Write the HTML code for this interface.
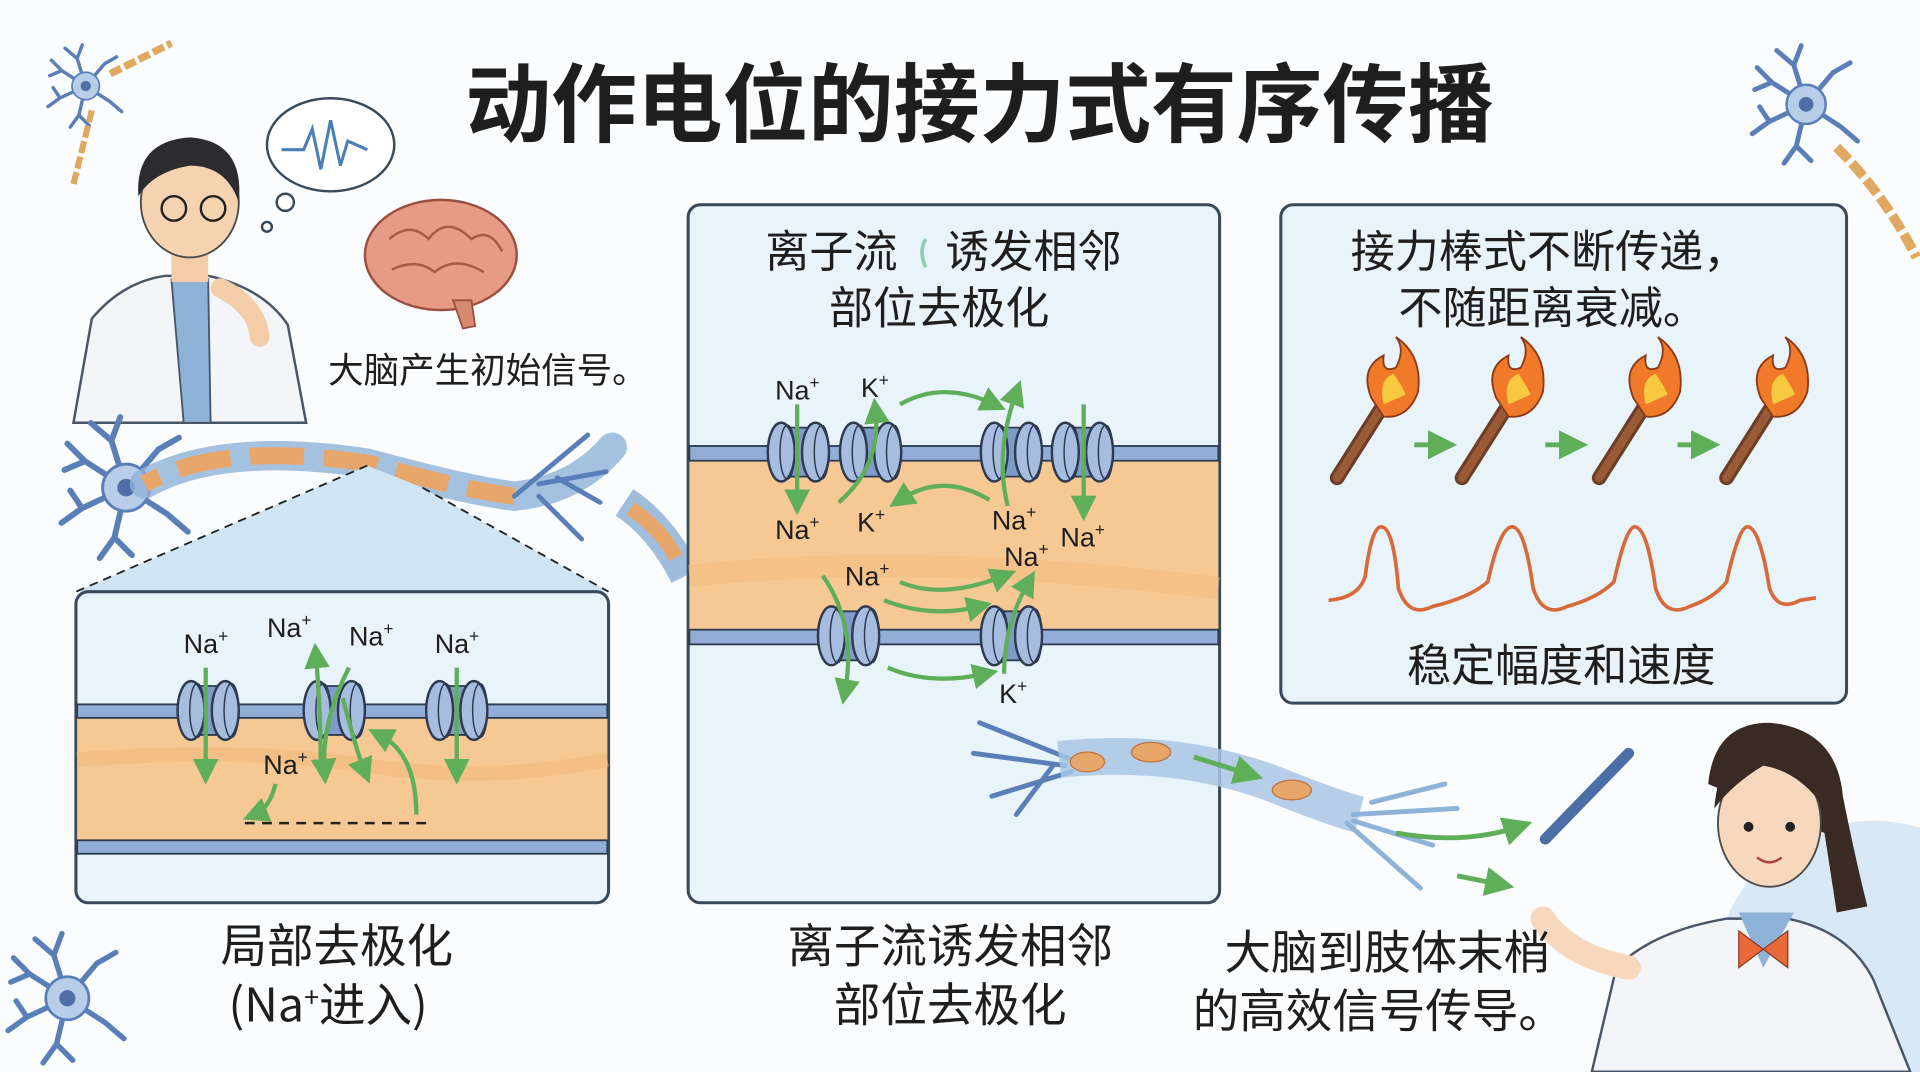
<!DOCTYPE html>
<html><head><meta charset="utf-8"><style>
html,body{margin:0;padding:0;background:#fbfcfd;width:1920px;height:1072px;overflow:hidden;}
svg{display:block}
text{font-family:"Liberation Sans","Noto Sans CJK SC",sans-serif;fill:#1e1e1e}
.cn{font-family:"Noto Sans CJK SC","WenQuanYi Zen Hei",sans-serif}
.ion{font-size:22px;fill:#1e1e1e}
</style></head><body>
<svg width="1920" height="1072" viewBox="0 0 1568 875" xmlns="http://www.w3.org/2000/svg">
<defs>
<g id="ch">
  <path d="M-14,-20 L14,-20 L14,20 L-14,20 Z" fill="#7f9cc8" stroke="#2d3a50" stroke-width="1.5"/>
  <ellipse cx="-14" cy="0" rx="11" ry="24" fill="#a6bde0" stroke="#2d3a50" stroke-width="2"/>
  <ellipse cx="-9" cy="0" rx="6" ry="22" fill="none" stroke="#2d3a50" stroke-width="1.2"/>
  <ellipse cx="14" cy="0" rx="11" ry="24" fill="#a6bde0" stroke="#2d3a50" stroke-width="2"/>
  <ellipse cx="19" cy="0" rx="6" ry="22" fill="none" stroke="#2d3a50" stroke-width="1.2"/>
</g>
<marker id="ah" markerWidth="6" markerHeight="6" refX="3" refY="3" orient="auto" markerUnits="strokeWidth">
  <path d="M0,0 L6,3 L0,6 Z" fill="#5fae5a"/>
</marker>
<g id="neu">
  <g stroke="#5a7fb8" stroke-width="4" fill="none" stroke-linecap="round">
    <path d="M0,0 L-28,-18 L-40,-30 M-28,-18 L-42,-12"/>
    <path d="M0,0 L-10,-32 L-4,-48 M-10,-32 L-24,-44"/>
    <path d="M0,0 L22,-26 L36,-34"/>
    <path d="M0,0 L-30,14 L-44,24 M-30,14 L-38,2"/>
    <path d="M0,0 L-8,34 L-18,48 M-8,34 L4,46"/>
    <path d="M0,0 L28,18 L42,30"/>
  </g>
  <circle r="16" fill="#b8cde8" stroke="#5a7fb8" stroke-width="2"/>
  <circle r="6" fill="#4f6ea5"/>
</g>
</defs>

<use href="#neu" transform="translate(70,70) scale(0.7)"/>
<use href="#neu" transform="translate(1475,85)"/>
<use href="#neu" transform="translate(55,815) scale(1.1)"/>
<path d="M90,60 L140,35" stroke="#e0a860" stroke-width="6" stroke-dasharray="10,3" fill="none"/>
<path d="M60,150 L75,90" stroke="#e0a860" stroke-width="5" stroke-dasharray="10,3" fill="none"/>
<path d="M1500,120 Q1540,160 1565,210" stroke="#e0a860" stroke-width="8" stroke-dasharray="14,4" fill="none"/>

<text x="800" y="110" text-anchor="middle" class="cn" font-size="70" font-weight="bold" fill="#1a1a1a">动作电位的接力式有序传播</text>

<!-- man -->
<path d="M60,345 L75,260 Q100,230 135,225 L170,225 Q215,235 235,265 L250,345 Z" fill="#f3f5f8" stroke="#4a5565" stroke-width="2"/>
<path d="M140,228 L150,345 L172,345 L170,228 Z" fill="#8fb2d8" stroke="#4a5565" stroke-width="1.5"/>
<rect x="140" y="195" width="30" height="35" fill="#f2cda8"/>
<ellipse cx="155" cy="165" rx="40" ry="45" fill="#f5d3b0" stroke="#4a4a4a" stroke-width="1.5"/>
<path d="M113,160 Q110,115 155,112 Q200,115 195,165 Q185,135 155,135 Q125,140 113,160 Z" fill="#2c2c30"/>
<circle cx="142" cy="170" r="10" fill="none" stroke="#222" stroke-width="2"/>
<circle cx="174" cy="170" r="10" fill="none" stroke="#222" stroke-width="2"/>
<path d="M180,235 Q210,250 212,275" stroke="#f2cda8" stroke-width="16" fill="none" stroke-linecap="round"/>
<ellipse cx="270" cy="118" rx="52" ry="38" fill="#fff" stroke="#3a4a5a" stroke-width="2"/>
<circle cx="233" cy="165" r="7" fill="#fff" stroke="#3a4a5a" stroke-width="2"/>
<circle cx="218" cy="185" r="4" fill="#fff" stroke="#3a4a5a" stroke-width="2"/>
<path d="M230,122 L248,122 L255,105 L262,138 L270,98 L278,135 L284,115 L300,122" stroke="#4a7fb5" stroke-width="2.5" fill="none"/>
<ellipse cx="360" cy="208" rx="62" ry="45" fill="#e79a86" stroke="#9a5040" stroke-width="2"/>
<path d="M318,195 Q335,180 350,195 Q365,175 385,195 Q400,185 410,205 M320,220 Q340,210 355,222 Q372,208 395,222" stroke="#a55a48" stroke-width="2" fill="none"/>
<path d="M370,245 L378,268 L388,266 L385,245 Z" fill="#d88a70" stroke="#9a5040" stroke-width="1.5"/>
<text x="268" y="312" class="cn" font-size="29">大脑产生初始信号。</text>

<use href="#neu" transform="translate(103,398) scale(1.2)"/>
<path d="M118,395 Q180,360 300,378 Q380,400 420,405 Q470,400 500,365" stroke="#8fb2d8" stroke-width="24" fill="none" stroke-linecap="round" opacity="0.8"/>
<path d="M118,395 Q180,360 300,378 Q380,400 420,405" stroke="#e7a76a" stroke-width="14" fill="none" stroke-dasharray="44,16" stroke-dashoffset="-30"/>
<g stroke="#5a7fb8" stroke-width="4" fill="none" stroke-linecap="round">
<path d="M420,405 L480,355 M440,395 L495,385 M440,405 L475,440 M455,390 L490,410"/>
</g>
<path d="M510,410 Q540,430 560,470" stroke="#8fb2d8" stroke-width="26" fill="none" opacity="0.85"/>
<path d="M515,415 Q540,432 552,455" stroke="#e7a76a" stroke-width="12" fill="none"/>

<path d="M300,380 L62,483 L497,483 L345,398 Z" fill="#cfe5f3"/>
<path d="M300,380 L62,483 M345,398 L497,483" stroke="#222" stroke-width="1.5" stroke-dasharray="7,5"/>

<rect x="62" y="483" width="435" height="254" rx="10" fill="#e9f3fa" stroke="#3a4a5a" stroke-width="2.5"/>
<rect x="63" y="585" width="433" height="102" fill="#f6c894"/>
<path d="M63,620 Q200,610 300,625 Q400,640 496,620" stroke="#f1b97e" stroke-width="12" fill="none" opacity="0.6"/>
<rect x="63" y="575" width="433" height="11" fill="#92aed6" stroke="#2d3a50" stroke-width="1.5"/>
<rect x="63" y="686" width="433" height="11" fill="#92aed6" stroke="#2d3a50" stroke-width="1.5"/>
<use href="#ch" transform="translate(170,580)"/>
<use href="#ch" transform="translate(273,580)"/>
<use href="#ch" transform="translate(373,580)"/>
<g stroke="#5fae5a" stroke-width="3.5" fill="none" marker-end="url(#ah)">
<path d="M168,545 L168,630"/>
<path d="M373,545 L373,630"/>
<path d="M285,545 Q262,590 265,630"/>
<path d="M262,630 Q262,580 258,535"/>
<path d="M280,570 Q290,610 298,630"/>
<path d="M340,665 Q340,615 310,600"/>
<path d="M225,640 Q220,660 208,665"/>
</g>
<path d="M200,672 L350,672" stroke="#222" stroke-width="2" stroke-dasharray="8,6"/>
<text x="150" y="533" class="ion">Na<tspan dy="-9" font-size="14">+</tspan></text>
<text x="218" y="520" class="ion">Na<tspan dy="-9" font-size="14">+</tspan></text>
<text x="285" y="527" class="ion">Na<tspan dy="-9" font-size="14">+</tspan></text>
<text x="355" y="533" class="ion">Na<tspan dy="-9" font-size="14">+</tspan></text>
<text x="215" y="632" class="ion">Na<tspan dy="-9" font-size="14">+</tspan></text>

<rect x="562" y="167" width="434" height="570" rx="10" fill="#e9f3fa" stroke="#3a4a5a" stroke-width="2.5"/>
<rect x="563" y="375" width="432" height="140" fill="#f6c894"/>
<path d="M563,470 Q750,450 995,480" stroke="#f1b97e" stroke-width="18" fill="none" opacity="0.5"/>
<rect x="563" y="364" width="432" height="12" fill="#92aed6" stroke="#2d3a50" stroke-width="1.5"/>
<rect x="563" y="514" width="432" height="12" fill="#92aed6" stroke="#2d3a50" stroke-width="1.5"/>
<use href="#ch" transform="translate(652,369)"/>
<use href="#ch" transform="translate(711,369)"/>
<use href="#ch" transform="translate(826,369)"/>
<use href="#ch" transform="translate(884,369)"/>
<use href="#ch" transform="translate(693,519)"/>
<use href="#ch" transform="translate(826,519)"/>
<g stroke="#5fae5a" stroke-width="3.5" fill="none" marker-end="url(#ah)">
<path d="M651,330 L651,410"/>
<path d="M885,330 L885,415"/>
<path d="M685,410 Q720,380 715,335"/>
<path d="M735,330 Q770,310 812,330"/>
<path d="M823,413 Q812,370 830,320"/>
<path d="M808,408 Q770,385 735,408"/>
<path d="M735,475 Q770,490 820,470"/>
<path d="M722,490 Q760,505 800,495"/>
<path d="M672,470 Q700,510 690,565"/>
<path d="M820,550 Q820,510 840,475"/>
<path d="M725,545 Q760,560 805,550"/>
</g>
<text x="633" y="326" class="ion">Na<tspan dy="-9" font-size="14">+</tspan></text>
<text x="703" y="324" class="ion">K<tspan dy="-9" font-size="14">+</tspan></text>
<text x="633" y="440" class="ion">Na<tspan dy="-9" font-size="14">+</tspan></text>
<text x="700" y="434" class="ion">K<tspan dy="-9" font-size="14">+</tspan></text>
<text x="810" y="432" class="ion">Na<tspan dy="-9" font-size="14">+</tspan></text>
<text x="866" y="446" class="ion">Na<tspan dy="-9" font-size="14">+</tspan></text>
<text x="820" y="462" class="ion">Na<tspan dy="-9" font-size="14">+</tspan></text>
<text x="690" y="478" class="ion">Na<tspan dy="-9" font-size="14">+</tspan></text>
<text x="816" y="574" class="ion">K<tspan dy="-9" font-size="14">+</tspan></text>
<text x="625" y="218" class="cn" font-size="36">离子流</text>
<path d="M756,195 Q750,205 756,218" stroke="#8fcfb0" stroke-width="3" fill="none"/>
<text x="772" y="218" class="cn" font-size="36">诱发相邻</text>
<text x="767" y="264" text-anchor="middle" class="cn" font-size="36">部位去极化</text>

<g stroke="#5a7fb8" stroke-width="4" fill="none" stroke-linecap="round">
<path d="M875,620 L800,590 M870,625 L795,615 M875,630 L810,650 M860,625 L830,665"/>
</g>
<path d="M865,620 Q960,610 1040,640 Q1090,660 1110,665" stroke="#a9c6e4" stroke-width="30" fill="none" opacity="0.85"/>
<ellipse cx="888" cy="622" rx="14" ry="8" fill="#e7a76a" stroke="#c0703a"/>
<ellipse cx="940" cy="614" rx="16" ry="8" fill="#e7a76a" stroke="#c0703a"/>
<ellipse cx="1055" cy="645" rx="16" ry="8" fill="#e7a76a" stroke="#c0703a"/>
<path d="M975,618 L1020,632" stroke="#5fae5a" stroke-width="4" fill="none" marker-end="url(#ah)"/>
<g stroke="#8fb2d8" stroke-width="4" fill="none" stroke-linecap="round">
<path d="M1105,665 L1190,660 M1105,670 L1170,690 M1100,672 L1160,725 M1120,655 L1180,640"/>
</g>
<g stroke="#5fae5a" stroke-width="4" fill="none" marker-end="url(#ah)">
<path d="M1140,680 Q1195,690 1240,675"/>
<path d="M1190,715 L1225,722"/>
</g>

<rect x="1046" y="167" width="462" height="407" rx="10" fill="#e9f3fa" stroke="#3a4a5a" stroke-width="2.5"/>
<text x="1265" y="218" text-anchor="middle" class="cn" font-size="36">接力棒式不断传递，</text>
<text x="1268" y="264" text-anchor="middle" class="cn" font-size="36">不随距离衰减。</text>
<g id="torch">
<path d="M1092,390 L1130,330" stroke="#6b3e25" stroke-width="12" stroke-linecap="round"/>
<path d="M1092,390 L1130,330" stroke="#9a5a35" stroke-width="7" stroke-linecap="round"/>
<path d="M1120,325 Q1110,300 1130,290 Q1128,305 1140,300 Q1148,285 1140,275 Q1162,290 1158,320 Q1150,342 1130,340 Z" fill="#f07a2a" stroke="#8a3a1a" stroke-width="1.5"/>
<path d="M1130,330 Q1125,310 1138,305 Q1145,315 1148,322 Z" fill="#f8c840"/>
</g>
<use href="#torch" transform="translate(102,0)"/>
<use href="#torch" transform="translate(214,0)"/>
<use href="#torch" transform="translate(318,0)"/>
<g stroke="#5fae5a" stroke-width="4" fill="none" marker-end="url(#ah)">
<path d="M1155,363 L1178,363"/>
<path d="M1262,363 L1285,363"/>
<path d="M1370,363 L1393,363"/>
</g>
<path d="M1085,490 Q1110,488 1115,470 Q1120,430 1128,430 Q1138,430 1142,480 Q1150,505 1170,495 Q1200,488 1215,475 Q1225,430 1235,430 Q1245,430 1252,480 Q1260,505 1280,495 Q1305,488 1318,475 Q1328,430 1335,430 Q1345,430 1352,480 Q1360,505 1380,495 Q1400,488 1410,475 Q1420,430 1427,430 Q1437,430 1445,480 Q1452,500 1470,490 L1483,488" stroke="#d86a3a" stroke-width="3" fill="none"/>
<text x="1275" y="556" text-anchor="middle" class="cn" font-size="36">稳定幅度和速度</text>

<circle cx="1530" cy="800" r="130" fill="#d8e8f5"/>
<path d="M1300,875 L1320,790 Q1350,760 1410,750 L1460,750 Q1510,760 1530,800 L1560,875 Z" fill="#f3f5f8" stroke="#4a5565" stroke-width="2"/>
<path d="M1420,745 L1440,790 L1465,745 Z" fill="#8fb2d8"/>
<path d="M1420,760 L1440,775 L1420,790 Z M1460,760 L1440,775 L1460,790 Z" fill="#e86a3a" stroke="#8a3a1a"/>
<path d="M1395,640 Q1400,590 1445,590 Q1500,595 1505,650 Q1515,700 1525,740 L1500,745 L1490,680 Z" fill="#3a2a24"/>
<ellipse cx="1445" cy="672" rx="42" ry="52" fill="#f7d8bc" stroke="#4a4a4a" stroke-width="1.5"/>
<path d="M1400,660 Q1405,600 1450,598 Q1490,605 1490,660 Q1470,630 1440,625 Q1415,640 1400,660 Z" fill="#3a2a24"/>
<circle cx="1428" cy="675" r="4" fill="#222"/><circle cx="1462" cy="675" r="4" fill="#222"/>
<path d="M1435,700 Q1445,708 1455,700" stroke="#b04040" stroke-width="2" fill="none"/>
<path d="M1260,750 Q1280,780 1330,790" stroke="#f7d8bc" stroke-width="20" fill="none" stroke-linecap="round"/>
<path d="M1330,615 L1262,685" stroke="#4a6ea5" stroke-width="9" stroke-linecap="round"/>

<text x="275" y="786" text-anchor="middle" class="cn" font-size="38">局部去极化</text>
<text x="268" y="834" text-anchor="middle" class="cn" font-size="38">(Na<tspan dy="-12" font-size="22">+</tspan><tspan dy="12">进入)</tspan></text>
<text x="776" y="786" text-anchor="middle" class="cn" font-size="38">离子流诱发相邻</text>
<text x="776" y="834" text-anchor="middle" class="cn" font-size="38">部位去极化</text>
<text x="1133" y="791" text-anchor="middle" class="cn" font-size="38">大脑到肢体末梢</text>
<text x="1126" y="839" text-anchor="middle" class="cn" font-size="38">的高效信号传导。</text>
</svg>
</body></html>
